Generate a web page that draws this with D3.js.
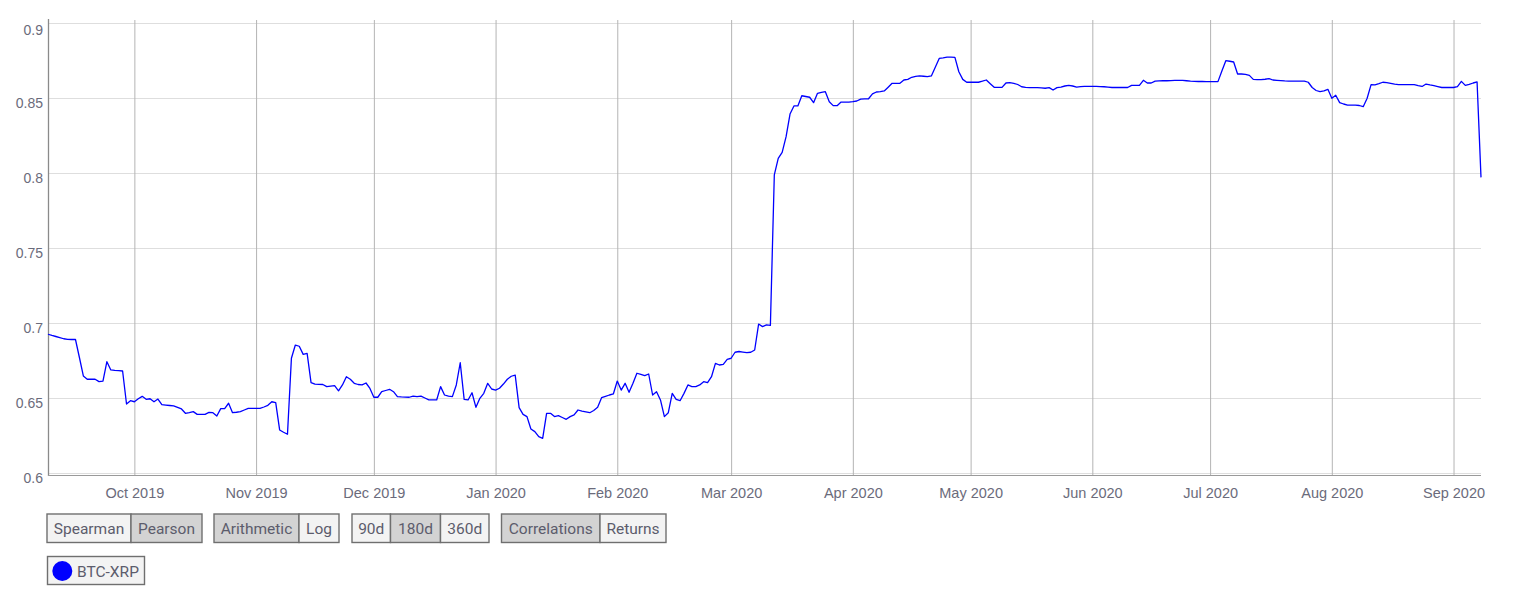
<!DOCTYPE html>
<html>
<head>
<meta charset="utf-8">
<script src="https://cdn.jsdelivr.net/npm/d3@7"></script>
<style>
  html, body { margin: 0; padding: 0; background: #fff; }
  svg { display: block; font-family: Roboto, "Noto Sans", sans-serif; }
</style>
</head>
<body>
<svg id="chart" width="1514" height="601"></svg>
<script>
// ---------- data ----------
const seriesName = "BTC-XRP";
const startDate = "2019-09-09";   // first daily observation
const values = [
0.6925,0.6917,0.6910,0.6903,0.6895,0.6891,0.6890,0.6890,0.6770,0.6647,
0.6625,0.6625,0.6625,0.6609,0.6613,0.6742,0.6687,0.6684,0.6682,0.6680,
0.6460,0.6482,0.6475,0.6495,0.6511,0.6491,0.6495,0.6475,0.6493,0.6456,
0.6453,0.6450,0.6447,0.6437,0.6427,0.6398,0.6403,0.6409,0.6391,0.6391,
0.6391,0.6404,0.6402,0.6380,0.6429,0.6429,0.6465,0.6402,0.6405,0.6409,
0.6420,0.6431,0.6431,0.6431,0.6431,0.6440,0.6451,0.6475,0.6469,0.6287,
0.6272,0.6258,0.6765,0.6853,0.6845,0.6791,0.6798,0.6603,0.6592,0.6591,
0.6590,0.6576,0.6579,0.6582,0.6548,0.6587,0.6642,0.6625,0.6598,0.6590,
0.6587,0.6600,0.6564,0.6505,0.6505,0.6542,0.6550,0.6558,0.6542,0.6509,
0.6507,0.6506,0.6505,0.6513,0.6509,0.6513,0.6500,0.6487,0.6487,0.6487,
0.6576,0.6520,0.6512,0.6509,0.6587,0.6735,0.6491,0.6487,0.6535,0.6438,
0.6498,0.6531,0.6598,0.6560,0.6553,0.6565,0.6593,0.6625,0.6645,0.6653,
0.6436,0.6391,0.6376,0.6293,0.6276,0.6242,0.6231,0.6398,0.6398,0.6376,
0.6382,0.6370,0.6358,0.6376,0.6387,0.6420,0.6412,0.6407,0.6402,0.6417,
0.6438,0.6502,0.6511,0.6520,0.6527,0.6613,0.6553,0.6598,0.6538,0.6598,
0.6665,0.6657,0.6649,0.6660,0.6520,0.6542,0.6487,0.6376,0.6402,0.6531,
0.6491,0.6482,0.6531,0.6587,0.6576,0.6576,0.6587,0.6609,0.6602,0.6642,
0.6731,0.6720,0.6724,0.6758,0.6765,0.6805,0.6810,0.6806,0.6802,0.6805,
0.6820,0.6993,0.6976,0.6987,0.6984,0.7987,0.8098,0.8138,0.8242,0.8393,
0.8447,0.8447,0.8515,0.8510,0.8505,0.8469,0.8531,0.8538,0.8542,0.8475,
0.8449,0.8449,0.8473,0.8473,0.8473,0.8476,0.8480,0.8493,0.8494,0.8495,
0.8527,0.8540,0.8543,0.8547,0.8572,0.8598,0.8598,0.8598,0.8620,0.8624,
0.8638,0.8644,0.8647,0.8645,0.8642,0.8647,0.8705,0.8764,0.8768,0.8773,
0.8772,0.8771,0.8675,0.8624,0.8605,0.8605,0.8605,0.8605,0.8612,0.8620,
0.8595,0.8571,0.8571,0.8571,0.8600,0.8602,0.8598,0.8590,0.8575,0.8571,
0.8569,0.8569,0.8569,0.8567,0.8565,0.8569,0.8553,0.8569,0.8573,0.8580,
0.8584,0.8580,0.8573,0.8576,0.8578,0.8578,0.8577,0.8577,0.8576,0.8575,
0.8573,0.8570,0.8570,0.8570,0.8570,0.8570,0.8584,0.8584,0.8584,0.8618,
0.8600,0.8600,0.8613,0.8614,0.8615,0.8615,0.8616,0.8617,0.8617,0.8618,
0.8615,0.8612,0.8611,0.8610,0.8610,0.8609,0.8609,0.8609,0.8609,0.8680,
0.8749,0.8745,0.8740,0.8660,0.8660,0.8658,0.8651,0.8624,0.8622,0.8622,
0.8625,0.8629,0.8620,0.8618,0.8616,0.8614,0.8613,0.8613,0.8613,0.8613,
0.8613,0.8605,0.8570,0.8550,0.8542,0.8547,0.8558,0.8498,0.8518,0.8469,
0.8460,0.8453,0.8453,0.8453,0.8450,0.8442,0.8498,0.8589,0.8588,0.8596,
0.8605,0.8602,0.8597,0.8592,0.8589,0.8589,0.8589,0.8589,0.8589,0.8582,
0.8577,0.8593,0.8587,0.8582,0.8576,0.8570,0.8570,0.8570,0.8570,0.8576,
0.8611,0.8584,0.8591,0.8600,0.8607,0.7971
];
const yTicks = [0.6, 0.65, 0.7, 0.75, 0.8, 0.85, 0.9];
const yTickLabels = ["0.6", "0.65", "0.7", "0.75", "0.8", "0.85", "0.9"];
const buttonGroups = [
  ["Spearman", "Pearson"],
  ["Arithmetic", "Log"],
  ["90d", "180d", "360d"],
  ["Correlations", "Returns"]
];
const selectedButtons = ["Pearson", "Arithmetic", "180d", "Correlations"];

// ---------- build ----------
const parse = d3.timeParse("%Y-%m-%d");
const t0 = parse(startDate);
const data = values.map((v, i) => ({ date: d3.timeDay.offset(t0, i), value: v }));

const svg = d3.select("#chart");
const L = 48, R = 1481, T = 20, B = 473, AXIS_Y = 475.5;
const labelColor = "#6b6b7b";

const x = d3.scaleTime()
  .domain([data[0].date, data[data.length - 1].date])
  .range([L, R]);
const y = d3.scaleLinear()
  .domain([0.6, 0.902])
  .range([B, T]);

// horizontal gridlines + y labels
const yAxis = d3.axisLeft(y)
  .tickValues(yTicks)
  .tickFormat((d, i) => yTickLabels[i])
  .tickSize(-(R - L))
  .tickPadding(5);
const gy = svg.append("g").attr("transform", `translate(${L},0)`).call(yAxis);
gy.select(".domain").remove();
gy.selectAll(".tick line").attr("stroke", "#dedede").attr("stroke-width", 1);
gy.selectAll(".tick text")
  .attr("fill", labelColor)
  .style("font-size", "14px")
  .attr("dy", (d) => d === 0.9 ? "0.85em" : "0.65em");

// vertical gridlines + x labels
const xAxis = d3.axisBottom(x)
  .ticks(d3.timeMonth.every(1))
  .tickFormat(d3.timeFormat("%b %Y"))
  .tickSize(-(AXIS_Y - T))
  .tickPadding(12);
const gx = svg.append("g").attr("transform", `translate(0,${AXIS_Y})`).call(xAxis);
gx.select(".domain").remove();
gx.selectAll(".tick line").attr("stroke", "#b4b4b4").attr("stroke-width", 1);
gx.selectAll(".tick text")
  .attr("fill", labelColor)
  .style("font-size", "14.5px");

// axis lines
svg.append("line").attr("x1", L + 0.5).attr("x2", L + 0.5).attr("y1", T - 1).attr("y2", AXIS_Y + 0.5)
  .attr("stroke", "#8a8a8a").attr("stroke-width", 1.3);
svg.append("line").attr("x1", L).attr("x2", R).attr("y1", AXIS_Y).attr("y2", AXIS_Y)
  .attr("stroke", "#9a9a9a").attr("stroke-width", 1.2);

// series line
const line = d3.line().x(d => x(d.date)).y(d => y(d.value));
svg.append("path").datum(data)
  .attr("d", line)
  .attr("fill", "none")
  .attr("stroke", "#0000ff")
  .attr("stroke-width", 1.3)
  .attr("stroke-linejoin", "round");

// ---------- controls ----------
const groupLayout = [
  { x: 47, widths: [84, 71] },
  { x: 214, widths: [85, 40] },
  { x: 352, widths: [38.5, 50, 48.5] },
  { x: 501.5, widths: [98.5, 66] }
];
const BTN_Y = 514, BTN_H = 28.5;
buttonGroups.forEach((grp, gi) => {
  let cx = groupLayout[gi].x;
  const g = svg.append("g");
  grp.forEach((label, bi) => {
    const w = groupLayout[gi].widths[bi];
    g.append("rect").attr("x", cx).attr("y", BTN_Y).attr("width", w).attr("height", BTN_H)
      .attr("fill", selectedButtons.includes(label) ? "#d3d3d3" : "#f3f3f3")
      .attr("stroke", "#6f6f6f").attr("stroke-width", 1.4);
    g.append("text").attr("x", cx + w / 2).attr("y", BTN_Y + BTN_H / 2 + 1)
      .attr("text-anchor", "middle").attr("dominant-baseline", "central")
      .attr("fill", "#5c5c6c").style("font-size", "15.5px").text(label);
    cx += w;
  });
});

// legend
const lg = svg.append("g");
lg.append("rect").attr("x", 47.5).attr("y", 556.5).attr("width", 97).attr("height", 28)
  .attr("fill", "#f3f3f3").attr("stroke", "#6f6f6f").attr("stroke-width", 1.4);
lg.append("circle").attr("cx", 62.3).attr("cy", 571).attr("r", 10).attr("fill", "#0000ff");
lg.append("text").attr("x", 77).attr("y", 571.5).attr("dominant-baseline", "central")
  .attr("fill", "#5c5c6c").style("font-size", "15.5px").text(seriesName);
</script>
</body>
</html>
